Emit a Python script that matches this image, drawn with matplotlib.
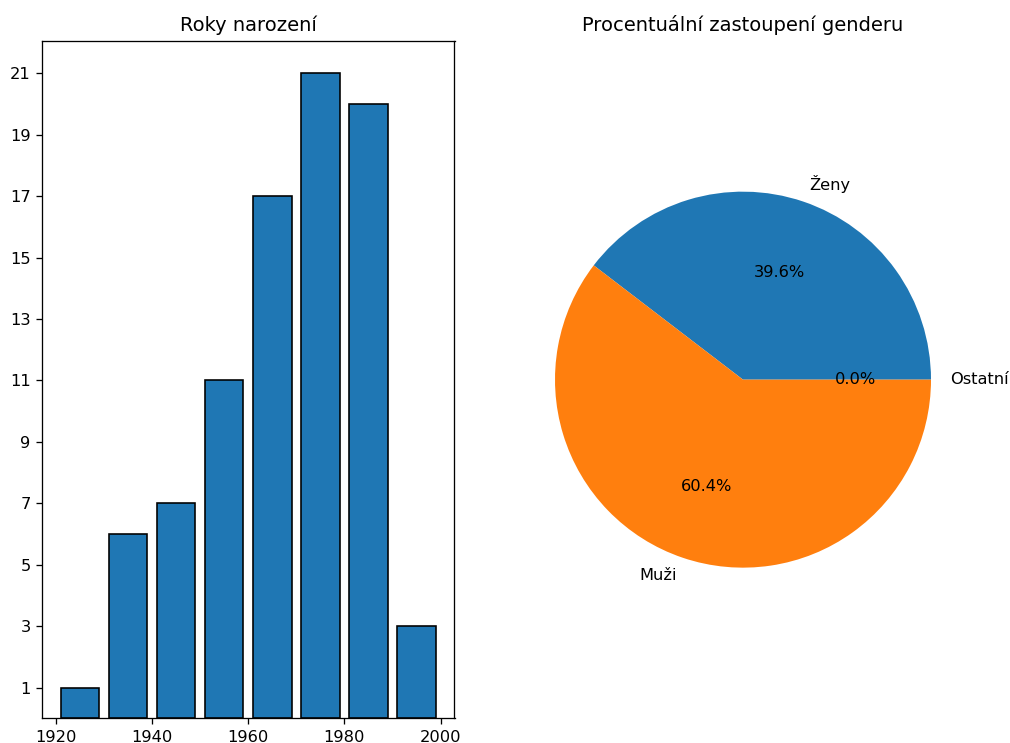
import numpy as np
import matplotlib
matplotlib.use('Agg')
import matplotlib.pyplot as plt

# data
bin_edges = [1920, 1930, 1940, 1950, 1960, 1970, 1980, 1990, 2000]
counts = [1, 6, 7, 11, 17, 21, 20, 3]
gender_labels = ['Ženy', 'Muži', 'Ostatní']
gender_share = [39.6, 60.4, 0.0]

W, H = 1011, 743
DPI = 117
fig = plt.figure(figsize=(W / DPI, H / DPI), dpi=DPI)

# left: birth years histogram
ax1 = fig.add_axes([42 / W, (H - 718.3) / H, 412.5 / W, 677.3 / H])
ax1.hist(bin_edges[:-1], bins=bin_edges, weights=counts, rwidth=0.8,
         edgecolor='black')
ax1.set_yticks(range(1, 22, 2))
ax1.set_xticks(range(1920, 2001, 20))
ax1.set_title('Roky narození')

# right: gender pie
ax2 = fig.add_axes([508 / W, (H - 718.3) / H, 470 / W, 677.3 / H])
ax2.pie(gender_share, labels=gender_labels, autopct='%1.1f%%')
ax2.set_aspect('auto')
ax2.set_xlim(-1.25, 1.25)
yr = 1.25 * 677.3 / 470
ax2.set_ylim(-yr, yr)
ax2.set_title('Procentuální zastoupení genderu')

fig.savefig('out.png', dpi=DPI)
